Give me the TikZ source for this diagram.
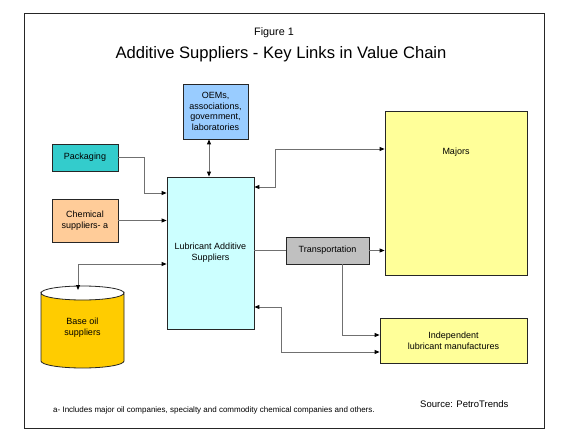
\documentclass[tikz,border=0pt]{standalone}
\usepackage{fontspec}
\setmainfont{Liberation Sans}
\usetikzlibrary{arrows.meta,calc}
\definecolor{packc}{HTML}{33CCCC}
\definecolor{chemc}{HTML}{FFCC99}
\definecolor{oemc}{HTML}{99CCFF}
\definecolor{lubc}{HTML}{CCFFFF}
\definecolor{transc}{HTML}{C0C0C0}
\definecolor{yelc}{HTML}{FFFF99}
\definecolor{oilc}{HTML}{FFCC00}
\definecolor{linec}{HTML}{707070}
\begin{document}
\begin{tikzpicture}[x=1pt,y=-1pt,
  txt/.style={font=\fontsize{9}{10.8}\selectfont},
  box/.style={draw=black!85, line width=0.8pt, align=center, inner sep=0pt, txt},
  conn/.style={draw=linec, line width=0.9pt},
  tipe/.style={-{Triangle[length=5pt,width=4pt,color=black]}},
  tipb/.style={{Triangle[length=5pt,width=4pt,color=black]}-{Triangle[length=5pt,width=4pt,color=black]}}]
\useasboundingbox[fill=white] (0,0) rectangle (576,441);
% frame
\draw[line width=0.9pt, black!85] (24,13) rectangle (544,428);
% titles
\node[font=\fontsize{10.8}{13}\selectfont] (fig) at (274,33) {Figure 1};
\node[font=\fontsize{16.6}{20}\selectfont] (title) at (281,54) {Additive Suppliers - Key Links in Value Chain};
% boxes
\node[box, fill=oemc, minimum width=65pt, minimum height=55pt] (oem) at (215.5,111.5)
  {OEMs,\\associations,\\government,\\laboratories};
\node[box, fill=packc, minimum width=66pt, minimum height=27pt] (pack) at (85,157.5) {Packaging};
\node[box, fill=chemc, minimum width=66pt, minimum height=43pt] (chem) at (85,220.5) {Chemical\\suppliers- a};
\node[box, fill=lubc, minimum width=87pt, minimum height=152pt] (lub) at (210.5,253) {Lubricant Additive\\Suppliers};
\node[box, fill=transc, minimum width=83pt, minimum height=27pt] (trans) at (327.5,250.5) {Transportation};
\node[box, fill=yelc, minimum width=142pt, minimum height=164pt,
  label={[anchor=center, yshift=-42pt, txt]north:Majors}] (maj) at (456,193) {};
\node[box, fill=yelc, minimum width=147pt, minimum height=45pt] (ind) at (453.5,340.5)
  {Independent\\lubricant manufactures};
% cylinder
\filldraw[fill=oilc, draw=black!85, line width=0.8pt]
  (41,293) -- (41,361) arc[start angle=180, end angle=0, x radius=41.5, y radius=7]
  -- (124,293) arc[start angle=0, end angle=180, x radius=41.5, y radius=7] -- cycle;
\draw[black!85, line width=0.8pt] (41,293) arc[start angle=180, end angle=360, x radius=41.5, y radius=7];
\node[align=center, txt] (base) at (82.5,328) {Base oil\\suppliers};
\coordinate (basetop) at (78,290);
% connectors
\draw[conn, tipe] (pack.east) -- ($(pack.east)+(26,0)$) |- ($(lub.west)+(0,-60)$);
\draw[conn, tipe] (chem.east) -- (chem.east -| lub.west);
\draw[conn, tipb] ($(oem.south)+(-6.5,0)$) -- ($(lub.north)+(-1.5,0)$);
\draw[conn, tipb] ($(lub.west)+(0,11)$) -| (basetop);
\draw[conn, tipb] ($(lub.east)+(0,-66)$) -- ($(lub.east)+(21,-66)$) |- ($(maj.west)+(0,-44)$);
\draw[conn] (lub.east |- trans.west) -- (trans.west);
\draw[conn, tipe] (trans.east) -- (trans.east -| maj.west);
\draw[conn, tipe] ($(trans.south)+(14.5,0)$) |- ($(ind.west)+(0,-5.5)$);
\draw[conn, tipb] ($(lub.east)+(0,54)$) -- ($(lub.east)+(27,54)$) |- ($(ind.west)+(0,11.5)$);
% footnotes
\node[font=\fontsize{8}{9}\selectfont, anchor=west, inner sep=0pt] (note) at (53,410)
  {a- Includes major oil companies, specialty and commodity chemical companies and others.};
\node[font=\fontsize{9.5}{11}\selectfont, anchor=west, inner sep=0pt] (src) at (420,404) {Source: PetroTrends};
\end{tikzpicture}
\end{document}
